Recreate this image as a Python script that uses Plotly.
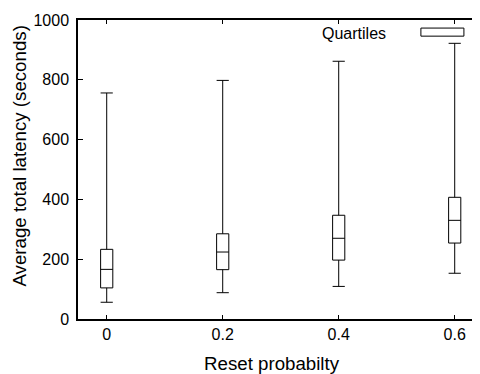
import plotly.graph_objects as go

# Data
reset_prob = [0, 0.2, 0.4, 0.6]
tick_labels = ["0", "0.2", "0.4", "0.6"]
whisker_low = [56, 88, 109, 153]
q1_vals = [104, 165, 197, 254]
median_vals = [166, 224, 270, 330]
q3_vals = [233, 285, 347, 407]
whisker_high = [756, 798, 862, 922]

x_title = "Reset probabilty"
y_title = "Average total latency (seconds)"
legend_label = "Quartiles"

FONT = "Liberation Sans, Arial, sans-serif"

fig = go.Figure()
fig.add_trace(go.Box(
    x=reset_prob,
    q1=q1_vals,
    median=median_vals,
    q3=q3_vals,
    lowerfence=whisker_low,
    upperfence=whisker_high,
    width=0.021,
    whiskerwidth=1,
    fillcolor="white",
    line=dict(color="black", width=1),
    boxpoints=False,
    showlegend=False,
    hoverinfo="skip",
))

# Legend key (manual, gnuplot style)
fig.add_annotation(
    x=0.771, y=0.9565, xref="paper", yref="paper",
    text=legend_label, showarrow=False, xanchor="right", yanchor="middle",
    font=dict(family=FONT, size=16, color="black"),
)
fig.add_shape(
    type="rect", xref="paper", yref="paper",
    x0=0.853, x1=0.960, y0=0.946, y1=0.973,
    line=dict(color="black", width=1), fillcolor="white",
)

# Axis titles (placed as in the reference, slightly off-centre)
fig.add_annotation(
    x=0.4826, y=-0.1505, xref="paper", yref="paper",
    text=x_title, showarrow=False, xanchor="center", yanchor="middle",
    font=dict(family=FONT, size=18.7, color="black"),
)
fig.add_annotation(
    x=-0.1455, y=0.545, xref="paper", yref="paper",
    text=y_title, showarrow=False, xanchor="center", yanchor="middle",
    textangle=-90,
    font=dict(family=FONT, size=18.7, color="black"),
)

# the page body has an 8px margin, so the figure is 8px smaller on each used side
fig.update_layout(
    width=472, height=366,
    margin=dict(l=70, r=0, t=12, b=55, autoexpand=False),
    plot_bgcolor="white", paper_bgcolor="white",
    font=dict(family=FONT, size=16, color="black"),
    xaxis=dict(
        range=[-0.0495, 0.6436],
        tickvals=reset_prob, ticktext=tick_labels,
        ticks="inside", ticklen=4, tickcolor="black",
        showline=True, linecolor="black", linewidth=1.5, mirror="ticks",
        showgrid=False, zeroline=False, automargin=False,
        tickfont=dict(family=FONT, size=16),
    ),
    yaxis=dict(
        range=[0, 1000], dtick=200,
        ticks="inside", ticklen=5, tickcolor="black",
        showline=True, linecolor="black", linewidth=1.5,
        showgrid=False, zeroline=False, automargin=False,
        tickfont=dict(family=FONT, size=16),
        ticklabelstandoff=4,
    ),
    yaxis2=dict(
        range=[0, 1000], dtick=200, overlaying="y", side="right",
        ticks="inside", ticklen=4, tickcolor="black",
        showticklabels=False, showline=False, showgrid=False, zeroline=False,
    ),
)

fig.write_html("out.html")
